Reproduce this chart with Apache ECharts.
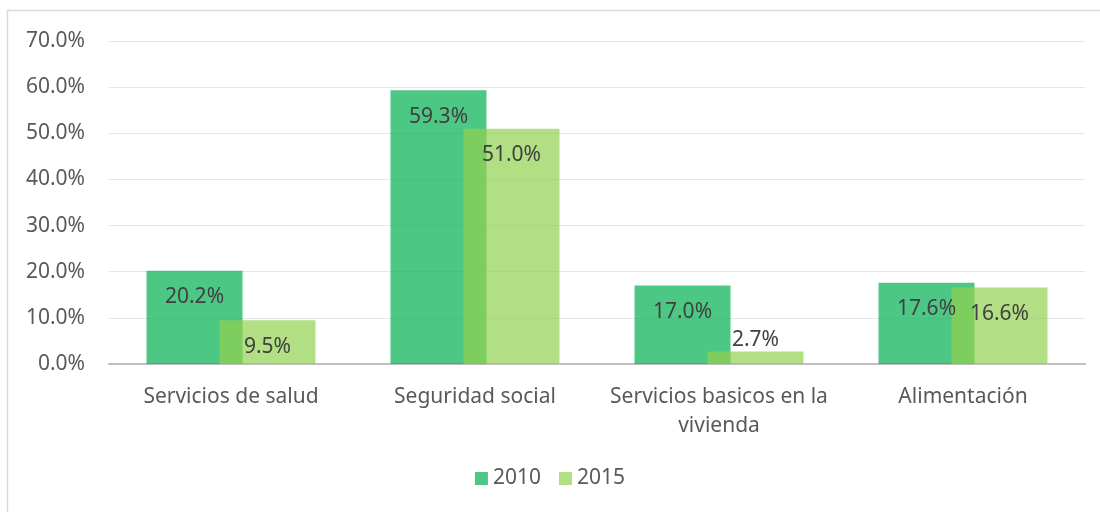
<!DOCTYPE html>
<html>
<head>
<meta charset="utf-8">
<script src="https://cdn.jsdelivr.net/npm/echarts@6/dist/echarts.min.js"></script>
<style>
  html, body { margin: 0; padding: 0; background: #fff; }
  #main { width: 1100px; height: 512px; }
</style>
</head>
<body>
<div id="main"></div>
<script>
const categories = [
  "Servicios de salud",
  "Seguridad social",
  "Servicios basicos en la\nvivienda",
  "Alimentación",
];
const yTicks = [0, 10, 20, 30, 40, 50, 60, 70];
const values2010 = [20.2, 59.3, 17.0, 17.6];
const values2015 = [9.5, 51.0, 2.7, 16.6];

const font = "Noto Sans";
const textColor = "#595959";
const fs = 21;

// tiny bars get their label above the bar, like the original
function toData(values) {
  return values.map((v) =>
    v < 5 ? { value: v, label: { position: "top", distance: 1 } } : v
  );
}

const chart = echarts.init(document.getElementById("main"), null, { renderer: "canvas" });

chart.setOption({
  animation: false,
  textStyle: { fontFamily: font },
  graphic: [
    {
      type: "rect",
      shape: { x: 7.5, y: 10.5, width: 1200, height: 600 },
      style: { fill: "none", stroke: "#D9D9D9", lineWidth: 1.5 },
      silent: true,
    },
  ],
  grid: { left: 109, right: 15, top: 41, bottom: 148 },
  legend: {
    bottom: 18,
    left: "center",
    itemWidth: 13,
    itemHeight: 13,
    itemGap: 18,
    icon: "rect",
    textStyle: { fontSize: fs, color: textColor, fontFamily: font },
    data: ["2010", "2015"],
  },
  xAxis: {
    type: "category",
    data: categories,
    axisLine: { lineStyle: { color: "#BFBFBF", width: 2 } },
    axisTick: { show: false },
    axisLabel: {
      fontSize: fs,
      color: textColor,
      margin: 19,
      lineHeight: 29,
      interval: 0,
    },
  },
  yAxis: {
    type: "value",
    min: yTicks[0],
    max: yTicks[yTicks.length - 1],
    interval: 10,
    axisLine: { show: false },
    axisTick: { show: false },
    splitLine: { lineStyle: { color: "#E6E6E6", width: 1 } },
    axisLabel: {
      fontSize: fs,
      color: textColor,
      margin: 24,
      formatter: (v) => v.toFixed(1) + "%",
    },
  },
  series: [
    {
      name: "2010",
      type: "bar",
      data: toData(values2010),
      barWidth: 96,
      barGap: "-24%",
      itemStyle: { color: "rgba(0,176,80,0.7)" },
      label: {
        show: true,
        position: "insideTop",
        distance: 16,
        fontSize: fs,
        color: "#404040",
        fontFamily: font,
        formatter: (p) => p.value.toFixed(1) + "%",
      },
    },
    {
      name: "2015",
      type: "bar",
      data: toData(values2015),
      barWidth: 96,
      itemStyle: { color: "rgba(146,208,80,0.7)" },
      label: {
        show: true,
        position: "insideTop",
        distance: 16,
        fontSize: fs,
        color: "#404040",
        fontFamily: font,
        formatter: (p) => p.value.toFixed(1) + "%",
      },
    },
  ],
});
</script>
</body>
</html>
